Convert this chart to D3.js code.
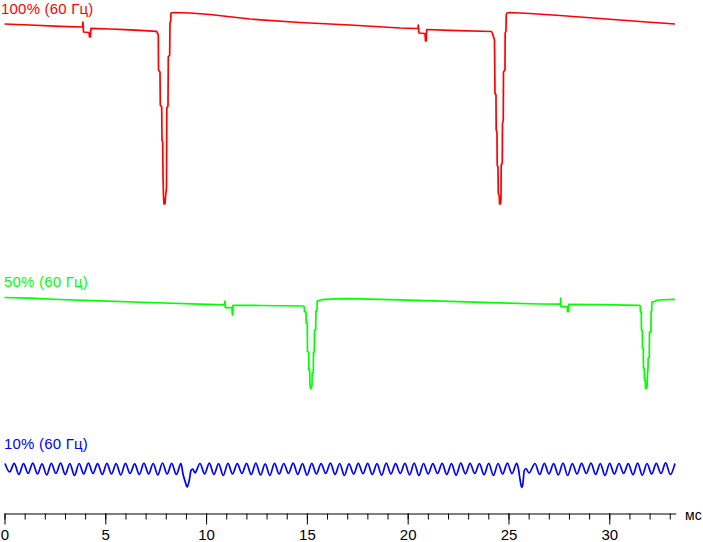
<!DOCTYPE html>
<html><head><meta charset="utf-8">
<script src="https://cdn.jsdelivr.net/npm/d3@7"></script>
<style>html,body{margin:0;padding:0;background:#fff;}svg{display:block;}</style>
</head><body>
<svg id="chart" width="703" height="542"></svg>
<script>
// Time in ms, level in arbitrary brightness units (one shared scale)
const majorTicks = [0, 5, 10, 15, 20, 25, 30];
const minorTicks = d3.range(0, 34);
const unitLabel = "мс";
const seriesLabels = ["100% (60 Гц)", "50% (60 Гц)", "10% (60 Гц)"];
const seriesColors = ["#ff0000", "#00ff00", "#0000ff"];

const red = [[0,476],[1.265,475],[2.753,473.7],[3.869,473],[3.894,478],[3.919,468],[4.191,467.5],[4.216,463],[4.266,463],[4.291,471.7],[5.233,471],[5.977,470.3],[6.721,469.7],[7.540,468.7],[7.589,467],[7.629,465],[7.639,430],[7.713,428],[7.728,395],[7.798,393],[7.812,360],[7.847,358],[7.862,325],[7.887,304],[7.912,296],[7.961,296],[7.996,305],[8.036,312],[8.051,392],[8.110,394],[8.125,443],[8.194,445],[8.209,477],[8.244,479],[8.259,487],[8.457,487.5],[9.201,487],[10.193,485.5],[12.177,481],[14.657,477.5],[17.138,475],[19.618,472],[20.511,471.5],[20.526,475],[20.560,467],[20.858,466.5],[20.883,459],[20.922,459],[20.942,470.5],[22.098,469.7],[24.157,468.5],[24.216,466],[24.306,460],[24.330,407],[24.380,405],[24.390,370],[24.430,368],[24.440,335],[24.479,333],[24.494,307],[24.544,304],[24.559,296],[24.603,296],[24.628,300],[24.638,335],[24.692,337],[24.702,377],[24.742,379],[24.752,428],[24.826,430],[24.836,467],[24.876,469],[24.891,485],[24.926,487],[25.074,487.5],[26.066,486.5],[27.554,484.5],[29.539,481.5],[31.523,478.5],[33.259,476]];

const green = [[0,202.5],[1.265,201.8],[2.753,200.5],[4.737,199.2],[7.217,197.5],[9.697,195.8],[10.913,195.2],[10.938,199],[10.952,192.3],[11.285,192.3],[11.300,185],[11.324,185],[11.334,194.7],[12.674,194.5],[14.807,194],[14.871,193],[14.881,188.3],[14.955,188],[14.965,177],[15.020,177],[15.030,148.3],[15.089,148],[15.099,130],[15.139,130],[15.149,115],[15.188,111.7],[15.218,111.7],[15.253,115],[15.263,127],[15.317,127],[15.327,148],[15.367,148],[15.377,170],[15.437,170],[15.446,189],[15.501,189],[15.511,199],[15.551,199.3],[15.749,200.3],[16.394,201.2],[17.138,201.3],[19.618,200.2],[22.098,198.7],[24.578,197.2],[26.563,196],[27.579,195.8],[27.589,202],[27.604,193.3],[27.917,193.3],[27.927,188.3],[27.976,188.3],[27.986,195.7],[29.539,195.3],[31.488,194.7],[31.538,194],[31.548,188],[31.587,188],[31.597,170],[31.637,170],[31.647,152],[31.687,152],[31.696,132],[31.736,132],[31.746,120],[31.786,120],[31.796,112],[31.835,111.3],[31.875,114],[31.885,122],[31.920,132],[31.930,142],[31.984,142],[31.994,168],[32.068,168],[32.078,189],[32.103,189],[32.113,198],[32.217,198.3],[32.416,200],[33.259,200.7]];

const blue = [[0.025,36.5],[0.254,28],[0.484,36.7],[0.714,25.5],[0.944,36.3],[1.173,26.5],[1.403,36.8],[1.633,26],[1.863,36.2],[2.092,25],[2.322,36.6],[2.552,26.5],[2.782,36.9],[3.011,25.5],[3.241,36.4],[3.471,24.5],[3.701,36.5],[3.930,26],[4.160,36.8],[4.390,26.5],[4.620,36.3],[4.849,25.5],[5.079,36.6],[5.309,26],[5.538,36.4],[5.768,25],[5.998,36.7],[6.228,26.5],[6.457,36.2],[6.687,25.5],[6.917,36.8],[7.147,26],[7.376,36.5],[7.606,25],[7.836,37],[8.066,26],[8.295,36.6],[8.525,25.5],[8.755,36.6],
[8.854,26],[8.968,18],[9.063,13],[9.167,20],[9.251,29.5],[9.335,31],[9.449,27.2],
[9.697,36.5],[9.928,26],[10.159,36.8],[10.390,25.5],[10.621,36.4],[10.852,24.5],[11.083,36.7],[11.314,26],[11.545,36.3],[11.776,26.5],[12.007,36.6],[12.238,25.5],[12.469,36.9],[12.700,25],[12.931,36.2],[13.162,24.5],[13.393,36.7],[13.624,26],[13.855,36.5],[14.087,26.5],[14.318,36.8],[14.549,25.5],[14.780,36.3],[15.011,24.8],[15.242,36.6],[15.473,26],[15.704,36.4],[15.935,26.5],[16.166,36.8],[16.397,25.5],[16.628,36.5],[16.859,24.5],[17.090,36.2],[17.321,26],[17.552,36.7],[17.783,26.3],[18.014,36.6],[18.245,25.5],[18.476,36.4],[18.707,24.8],[18.938,36.8],[19.169,26],[19.400,36.3],[19.631,26.5],[19.862,36.6],[20.093,25.2],[20.324,36.9],[20.555,24.5],[20.786,36.5],[21.017,26],[21.248,36.4],[21.479,26.5],[21.710,36.7],[21.941,25.5],[22.172,36.3],[22.403,24.8],[22.634,36.8],[22.865,26.2],[23.096,36.6],[23.327,26.5],[23.559,36.4],[23.790,25.3],[24.021,36.7],[24.252,24.6],[24.483,36.5],[24.714,26],[24.945,36.8],[25.176,26.4],[25.407,36.6],
[25.496,31],[25.570,21],[25.655,12.7],[25.709,15.5],[25.784,29.5],[25.868,31.5],[26.017,27],
[26.315,36.5],[26.546,25.5],[26.778,36.7],[27.009,26],[27.241,36.4],[27.472,25],[27.704,36.8],[27.935,24.5],[28.167,36.3],[28.398,26],[28.630,36.6],[28.861,26.5],[29.093,36.9],[29.324,25.5],[29.556,36.4],[29.787,24.6],[30.019,36.7],[30.250,26],[30.482,36.5],[30.713,26.5],[30.945,36.3],[31.176,25.3],[31.408,36.8],[31.639,24.8],[31.870,36.5],[32.102,26],[32.333,36.7],[32.565,26.5],[32.796,37.2],[33.028,25.5],[33.259,36.6]];

const svg = d3.select("#chart");
svg.append("rect").attr("width", 703).attr("height", 542).attr("fill", "#fff");

const x = d3.scaleLinear().domain([0, 33.3]).range([4.5, 675.8]);
const y = d3.scaleLinear().domain([0, 500]).range([500, 0]);

const font = "'Liberation Sans', Arial, sans-serif";

// axis: minor ticks
const axisY = 513.5;
svg.append("g").attr("transform", `translate(0,${axisY})`)
  .call(d3.axisBottom(x).tickValues(minorTicks).tickSize(6).tickSizeOuter(0).tickFormat(""))
  .call(g => g.selectAll("path,line").attr("stroke", "#000"));
svg.append("g").attr("transform", `translate(0,${axisY})`)
  .call(d3.axisBottom(x).tickValues(majorTicks).tickSize(11).tickSizeOuter(0).tickPadding(5).tickFormat(d3.format("d")))
  .call(g => g.select(".domain").remove())
  .call(g => g.selectAll("line").attr("stroke", "#000"))
  .call(g => g.selectAll("text").attr("fill", "#000").style("font-family", font).style("font-size", "15px"));

svg.append("text").attr("x", 685).attr("y", 519.5).text(unitLabel)
  .attr("fill", "#000").style("font-family", font).style("font-size", "14px");

const line = d3.line().x(d => x(d[0])).y(d => y(d[1]));
const smooth = d3.line().x(d => x(d[0])).y(d => y(d[1])).curve(d3.curveMonotoneX);

[[red, line], [green, line], [blue, smooth]].forEach(([data, gen], i) => {
  svg.append("path").datum(data).attr("d", gen).attr("fill", "none")
    .attr("stroke", seriesColors[i]).attr("stroke-width", 1.7).attr("stroke-linejoin", "round");
});

const labelPos = [[1, 13.5], [4, 287], [4, 449]];
seriesLabels.forEach((t, i) => {
  svg.append("text").attr("x", labelPos[i][0]).attr("y", labelPos[i][1]).text(t)
    .attr("fill", seriesColors[i]).style("font-family", font).style("font-size", "15px")
    .style("letter-spacing", "0.2px");
});
</script>
</body></html>
